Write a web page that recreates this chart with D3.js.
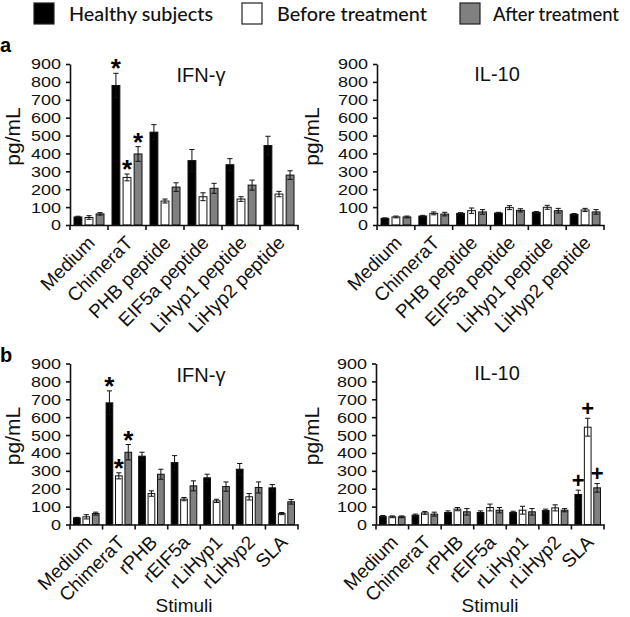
<!DOCTYPE html>
<html><head><meta charset="utf-8">
<script src="https://cdn.jsdelivr.net/npm/d3@7"></script>
<style>body{margin:0;background:#fff}svg{display:block}</style>
</head><body><svg id="c" width="630" height="617"></svg>
<script>
const series = ["Healthy subjects","Before treatment","After treatment"];
const seriesColors = ["#000000","#ffffff","#808080"];
const ticks = [0,100,200,300,400,500,600,700,800,900];

const catsA = ["Medium","ChimeraT","PHB peptide","EIF5a peptide","LiHyp1 peptide","LiHyp2 peptide"];
const catsB = ["Medium","ChimeraT","rPHB","rEIF5a","rLiHyp1","rLiHyp2","SLA"];

// Panel a, IFN-γ
const aIfnHealthy = [45, 780, 519, 360, 337, 444];
const aIfnHealthyErr = [4, 68, 42, 62, 34, 52];
const aIfnBefore = [42, 266, 134, 158, 145, 173];
const aIfnBeforeErr = [10, 19, 11, 22, 13, 15];
const aIfnAfter = [62, 397, 212, 205, 223, 279];
const aIfnAfterErr = [7, 41, 24, 28, 28, 24];
// Panel a, IL-10
const aIlHealthy = [37, 50, 65, 67, 71, 60];
const aIlHealthyErr = [3, 4, 4, 4, 4, 4];
const aIlBefore = [45, 65, 80, 97, 99, 84];
const aIlBeforeErr = [5, 8, 15, 11, 11, 9];
const aIlAfter = [45, 61, 73, 82, 80, 73];
const aIlAfterErr = [5, 10, 13, 9, 13, 13];
// Panel b, IFN-γ
const bIfnHealthy = [37, 680, 382, 346, 261, 309, 205];
const bIfnHealthyErr = [3, 67, 22, 39, 20, 32, 18];
const bIfnBefore = [43, 272, 173, 142, 132, 155, 61];
const bIfnBeforeErr = [12, 17, 15, 9, 9, 18, 6];
const bIfnAfter = [61, 404, 281, 216, 212, 207, 127];
const bIfnAfterErr = [8, 43, 28, 28, 26, 31, 13];
// Panel b, IL-10
const bIlHealthy = [45, 52, 67, 67, 67, 78, 168];
const bIlHealthyErr = [5, 6, 9, 9, 7, 8, 24];
const bIlBefore = [43, 65, 86, 95, 80, 93, 544];
const bIlBeforeErr = [5, 8, 9, 19, 22, 17, 50];
const bIlAfter = [43, 58, 71, 80, 71, 80, 205];
const bIlAfterErr = [5, 11, 18, 15, 18, 9, 24];

// significance marks: [category, series index, symbol]
const marksAIfn = [["ChimeraT",0,"*"],["ChimeraT",1,"*"],["ChimeraT",2,"*"]];
const marksBIfn = [["ChimeraT",0,"*"],["ChimeraT",1,"*"],["ChimeraT",2,"*"]];
const marksBIl = [["SLA",0,"+"],["SLA",1,"+"],["SLA",2,"+"]];

const FONT = "'Liberation Sans', Arimo, Arial, Helvetica, sans-serif";
const svg = d3.select("#c");

// Legend
const legX = [34, 242, 460];
const legTextX = [69, 277, 493];
const legLen = [144, 150, 126];
series.forEach((s,i)=>{
  svg.append("rect").attr("x",legX[i]).attr("y",3).attr("width",20).attr("height",21)
    .attr("fill",seriesColors[i]).attr("stroke","#222").attr("stroke-width",1.2);
  svg.append("text").attr("x",legTextX[i]).attr("y",21).text(s)
    .style("font-family","Lato, 'Open Sans', sans-serif").style("font-size","19px").style("font-weight","500")
    .attr("textLength",legLen[i]).attr("lengthAdjust","spacingAndGlyphs").attr("fill","#111");
});

function panel(cfg){
  const g = svg.append("g").style("font-family",FONT);
  const y = d3.scaleLinear().domain([0,900]).range([cfg.y0, cfg.y900]);
  const x0 = d3.scaleBand().domain(cfg.cats).range([cfg.xl, cfg.xr]);
  const x1 = d3.scaleBand().domain([0,1,2]).range([cfg.pad, x0.bandwidth()-cfg.pad]).paddingInner(0.29);
  const vals = cfg.vals, errs = cfg.errs;

  cfg.cats.forEach((c,ci)=>{
    [0,1,2].forEach(si=>{
      const v = vals[si][ci];
      g.append("rect").attr("x",x0(c)+x1(si)).attr("width",x1.bandwidth())
        .attr("y",y(v)).attr("height",y(0)-y(v))
        .attr("fill",seriesColors[si]).attr("stroke","#111").attr("stroke-width",1);
    });
  });
  cfg.cats.forEach((c,ci)=>{
    [0,1,2].forEach(si=>{
      const v = vals[si][ci], e = errs[si][ci];
      const cx = x0(c)+x1(si)+x1.bandwidth()/2;
      const cw = 2.6;
      const col = "#111";
      g.append("line").attr("x1",cx).attr("x2",cx).attr("y1",y(v-e)).attr("y2",y(v+e)).attr("stroke",col).attr("stroke-width",1);
      g.append("line").attr("x1",cx-cw).attr("x2",cx+cw).attr("y1",y(v+e)).attr("y2",y(v+e)).attr("stroke",col).attr("stroke-width",1);
      g.append("line").attr("x1",cx-cw).attr("x2",cx+cw).attr("y1",y(v-e)).attr("y2",y(v-e)).attr("stroke",col).attr("stroke-width",1);
    });
  });
  cfg.marks.forEach(([c,si,sym])=>{
    const ci = cfg.cats.indexOf(c);
    const top = y(vals[si][ci]+errs[si][ci]) - 10;
    const cx = x0(c)+x1(si)+x1.bandwidth()/2;
    if(sym==="*"){
      g.append("text").attr("x",cx).attr("y",top+14).attr("text-anchor","middle")
        .style("font-family",FONT).style("font-size","26px").style("font-weight","bold").text("*");
    } else {
      g.append("text").attr("x",cx).attr("y",top+7.5).attr("text-anchor","middle")
        .style("font-family",FONT).style("font-size","22px").style("font-weight","bold").text("+");
    }
  });

  const ya = g.append("g").attr("transform",`translate(${cfg.xl},0)`)
    .call(d3.axisLeft(y).tickValues(ticks).tickSize(4).tickSizeOuter(0).tickPadding(5));
  ya.attr("font-family",null).attr("font-size",null);
  ya.selectAll("text").style("font-family",FONT).style("font-size","15.5px").attr("fill","#111")
    .attr("textLength",d=>String(d).length*10).attr("lengthAdjust","spacingAndGlyphs");
  ya.selectAll("path,line").attr("stroke","#111").attr("stroke-width",1.6);
  const xa = g.append("g").attr("transform",`translate(0,${cfg.y0})`)
    .call(d3.axisBottom(x0).tickSize(0).tickSizeOuter(0).tickFormat(""));
  xa.selectAll("path").attr("stroke","#111").attr("stroke-width",1.6);
  const bounds = cfg.cats.map(c=>x0(c)).concat([cfg.xr]);
  bounds.forEach(bx=>{
    g.append("line").attr("x1",bx).attr("x2",bx).attr("y1",cfg.y0).attr("y2",cfg.y0+5).attr("stroke","#111").attr("stroke-width",1.6);
  });
  cfg.cats.forEach(c=>{
    const cx = x0(c)+x0.bandwidth()/2;
    g.append("text").attr("transform",`translate(${cx+7},${cfg.y0+19}) rotate(-45)`)
      .attr("text-anchor","end").style("font-family",FONT).style("font-size","19px").attr("fill","#111").text(c);
  });
  g.append("text").attr("x",cfg.titleX).attr("y",cfg.titleY).attr("text-anchor","middle")
    .style("font-family",FONT).style("font-size","20px").attr("fill","#111").text(cfg.title);
  const ym = (cfg.y0+cfg.y900)/2 - 8;
  g.append("text").attr("transform",`translate(${cfg.ylabX},${ym}) rotate(-90)`)
    .attr("text-anchor","middle").style("font-family",FONT).style("font-size","21px").attr("fill","#111").text("pg/mL");
  if(cfg.xlabel){
    g.append("text").attr("x",(cfg.xl+cfg.xr)/2).attr("y",612).attr("text-anchor","middle")
      .style("font-family",FONT).style("font-size","19px").attr("fill","#111").text(cfg.xlabel);
  }
}

panel({cats:catsA, vals:[aIfnHealthy,aIfnBefore,aIfnAfter], errs:[aIfnHealthyErr,aIfnBeforeErr,aIfnAfterErr],
  xl:70, xr:298, y0:225, y900:64, pad:4, title:"IFN-γ", titleX:201, titleY:82, ylabX:20, marks:marksAIfn});
panel({cats:catsA, vals:[aIlHealthy,aIlBefore,aIlAfter], errs:[aIlHealthyErr,aIlBeforeErr,aIlAfterErr],
  xl:377, xr:604, y0:225, y900:64, pad:4, title:"IL-10", titleX:497, titleY:81, ylabX:319, marks:[]});
panel({cats:catsB, vals:[bIfnHealthy,bIfnBefore,bIfnAfter], errs:[bIfnHealthyErr,bIfnBeforeErr,bIfnAfterErr],
  xl:70, xr:298, y0:524.5, y900:363.5, pad:3.5, title:"IFN-γ", titleX:201, titleY:382, ylabX:20, marks:marksBIfn, xlabel:"Stimuli"});
panel({cats:catsB, vals:[bIlHealthy,bIlBefore,bIlAfter], errs:[bIlHealthyErr,bIlBeforeErr,bIlAfterErr],
  xl:376, xr:604, y0:524.5, y900:363.5, pad:3.5, title:"IL-10", titleX:497, titleY:380, ylabX:319, marks:marksBIl, xlabel:"Stimuli"});

svg.append("text").attr("x",0).attr("y",52).style("font-family",FONT).style("font-size","20px").style("font-weight","bold").text("a");
svg.append("text").attr("x",0).attr("y",362).style("font-family",FONT).style("font-size","20px").style("font-weight","bold").text("b");
</script></body></html>
